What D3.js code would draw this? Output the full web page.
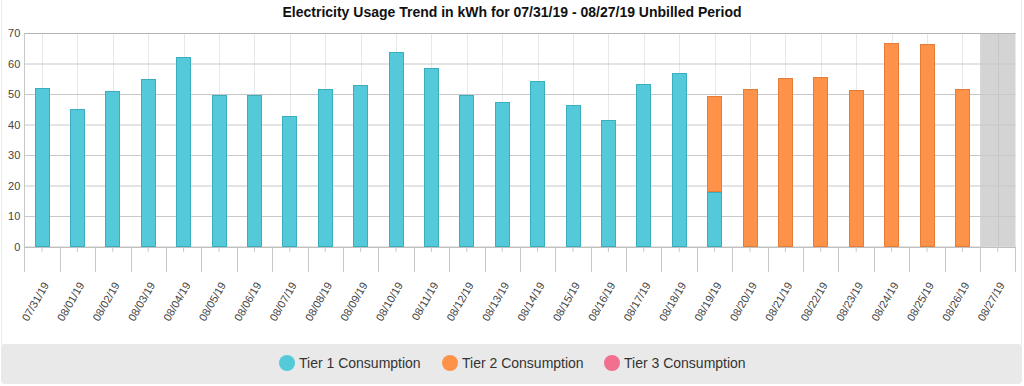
<!DOCTYPE html>
<html>
<head>
<meta charset="utf-8">
<script src="https://cdn.jsdelivr.net/npm/d3@7/dist/d3.min.js"></script>
<style>
  html, body { margin: 0; padding: 0; background: #fff; }
  svg { display: block; font-family: "Liberation Sans", Arial, sans-serif; }
</style>
</head>
<body>
<div id="chart"></div>
<script>

// values
var dates = ["07/31/19", "08/01/19", "08/02/19", "08/03/19", "08/04/19", "08/05/19", "08/06/19",
    "08/07/19", "08/08/19", "08/09/19", "08/10/19", "08/11/19", "08/12/19", "08/13/19",
    "08/14/19", "08/15/19", "08/16/19", "08/17/19", "08/18/19", "08/19/19", "08/20/19",
    "08/21/19", "08/22/19", "08/23/19", "08/24/19", "08/25/19", "08/26/19", "08/27/19"];

var tier1 = [52, 45, 51, 54.8, 62, 49.8, 49.8, 42.8, 51.6, 52.8, 63.7, 58.6, 49.8, 47.3,
    54.3, 46.4, 41.4, 53.3, 56.8, 17.8, 0, 0, 0, 0, 0, 0, 0, 0];
var tier2 = [0, 0, 0, 0, 0, 0, 0, 0, 0, 0, 0, 0, 0, 0,
    0, 0, 0, 0, 0, 31.5, 51.6, 55.3, 55.6, 51.2, 66.8, 66.3, 51.6, 0];
var tier3 = [0, 0, 0, 0, 0, 0, 0, 0, 0, 0, 0, 0, 0, 0,
    0, 0, 0, 0, 0, 0, 0, 0, 0, 0, 0, 0, 0, 0];

var yTicks = [0, 10, 20, 30, 40, 50, 60, 70];
var unbilledDates = ["08/27/19"];

var seriesNames = ["Tier 1 Consumption", "Tier 2 Consumption", "Tier 3 Consumption"];
var seriesFill = ["#53c9da", "#ff9249", "#f2708f"];
var seriesStroke = ["#3aaebf", "#e57c38", "#d95a78"];

var W = 1024, H = 386;
var plot = { left: 24.3, right: 1015.5, top: 33, bottom: 246.5 };

var svg = d3.select("#chart").append("svg")
    .attr("width", W)
    .attr("height", H);

// outer frame lines
svg.append("line").attr("x1", 1.5).attr("x2", 1.5).attr("y1", 0).attr("y2", 345)
    .attr("stroke", "#ececec");
svg.append("line").attr("x1", 1021.5).attr("x2", 1021.5).attr("y1", 0).attr("y2", 345)
    .attr("stroke", "#ececec");

var x = d3.scaleBand()
    .domain(dates)
    .range([plot.left, plot.right])
    .padding(0);

var y = d3.scaleLinear()
    .domain([0, 70])
    .range([plot.bottom, plot.top]);

var barW = x.bandwidth() * 0.42;

// title
svg.append("text")
    .attr("x", W / 2)
    .attr("y", 17)
    .attr("text-anchor", "middle")
    .style("font-size", "14px")
    .style("font-weight", "bold")
    .style("fill", "#111")
    .text("Electricity Usage Trend in kWh for 07/31/19 - 08/27/19 Unbilled Period");

// unbilled plot band
svg.selectAll("rect.band")
    .data(unbilledDates)
    .enter().append("rect")
    .attr("class", "band")
    .attr("x", function(d){ return x(d); })
    .attr("y", plot.top)
    .attr("width", x.bandwidth())
    .attr("height", plot.bottom - plot.top)
    .style("fill", "#d4d4d4");

// vertical grid at category centres
svg.append("g")
    .selectAll("line")
    .data(dates)
    .enter().append("line")
    .attr("x1", function(d){ return Math.round(x(d) + x.bandwidth() / 2) + 0.5; })
    .attr("x2", function(d){ return Math.round(x(d) + x.bandwidth() / 2) + 0.5; })
    .attr("y1", plot.top)
    .attr("y2", plot.bottom)
    .attr("stroke", function(d){ return unbilledDates.indexOf(d) >= 0 ? "#c2c8cc" : "#e4e9ee"; });

// horizontal grid
var yAxis = d3.axisLeft(y)
    .tickValues(yTicks)
    .tickSize(-(plot.right - plot.left))
    .tickPadding(5);

var gy = svg.append("g")
    .attr("transform", "translate(" + plot.left + ",0)")
    .call(yAxis);

gy.select(".domain").remove();
gy.selectAll(".tick line")
    .attr("stroke", function(d){ return d == 70 ? "#b4b4b4" : "#c8c8c8"; });
gy.selectAll(".tick text")
    .style("font-size", "11px")
    .style("fill", "#444")
    .attr("x", -4);

// left axis line
svg.append("line")
    .attr("x1", Math.round(plot.left) + 0.5).attr("x2", Math.round(plot.left) + 0.5)
    .attr("y1", plot.top).attr("y2", 272)
    .attr("stroke", "#c8c8c8");

// stacked bars
var rows = dates.map(function(d, i){
    return { date: d, t1: tier1[i], t2: tier2[i], t3: tier3[i] };
});
var stack = d3.stack().keys(["t1", "t2", "t3"]);
var layers = stack(rows);

svg.append("g")
    .selectAll("g")
    .data(layers)
    .enter().append("g")
    .style("fill", function(d, i){ return seriesFill[i]; })
    .style("stroke", function(d, i){ return seriesStroke[i]; })
    .selectAll("rect")
    .data(function(d){ return d.filter(function(p){ return p[1] - p[0] > 0; }); })
    .enter().append("rect")
    .attr("x", function(d){ return Math.round(x(d.data.date) + (x.bandwidth() - barW) / 2) + 0.5; })
    .attr("y", function(d){ return Math.round(y(d[1])) + 0.5; })
    .attr("width", Math.round(barW) - 1)
    .attr("height", function(d){ return Math.round(y(d[0])) - Math.round(y(d[1])) - 1; })
    .style("stroke-width", 1);

// x axis: baseline, centre ticks, category dividers
svg.append("line")
    .attr("x1", plot.left).attr("x2", plot.right)
    .attr("y1", Math.round(plot.bottom) + 0.5).attr("y2", Math.round(plot.bottom) + 0.5)
    .attr("stroke", "#c0c0c0");

var xAxis = d3.axisBottom(x)
    .tickSize(5)
    .tickPadding(0);

var gx = svg.append("g")
    .attr("transform", "translate(0," + Math.round(plot.bottom) + ")")
    .call(xAxis);

gx.select(".domain").remove();
gx.selectAll(".tick line").attr("stroke", "#c8c8c8");
gx.selectAll(".tick text")
    .style("font-size", "11px")
    .style("fill", "#444")
    .attr("text-anchor", "end")
    .attr("transform", "translate(4,36) rotate(-60)")
    .attr("dy", "0.35em")
    .attr("y", 0);

svg.append("g")
    .selectAll("line")
    .data(dates.slice(1).concat(["end"]))
    .enter().append("line")
    .attr("x1", function(d, i){ return Math.round(plot.left + x.step() * (i + 1)) + 0.5; })
    .attr("x2", function(d, i){ return Math.round(plot.left + x.step() * (i + 1)) + 0.5; })
    .attr("y1", plot.bottom)
    .attr("y2", 272)
    .attr("stroke", "#c8c8c8");

// legend
svg.append("rect")
    .attr("x", 1)
    .attr("y", 344)
    .attr("width", 1021)
    .attr("height", 40)
    .attr("rx", 4)
    .style("fill", "#e9e9e9");

var legendX = [287, 450, 612];
var legend = svg.append("g")
    .selectAll("g")
    .data(seriesNames)
    .enter().append("g")
    .attr("transform", function(d, i){ return "translate(" + legendX[i] + ",363)"; });

legend.append("circle")
    .attr("r", 8)
    .style("fill", function(d, i){ return seriesFill[i]; });

legend.append("text")
    .attr("x", 12)
    .attr("dy", "0.35em")
    .style("font-size", "14px")
    .style("fill", "#333")
    .text(function(d){ return d; });

</script>
</body>
</html>
